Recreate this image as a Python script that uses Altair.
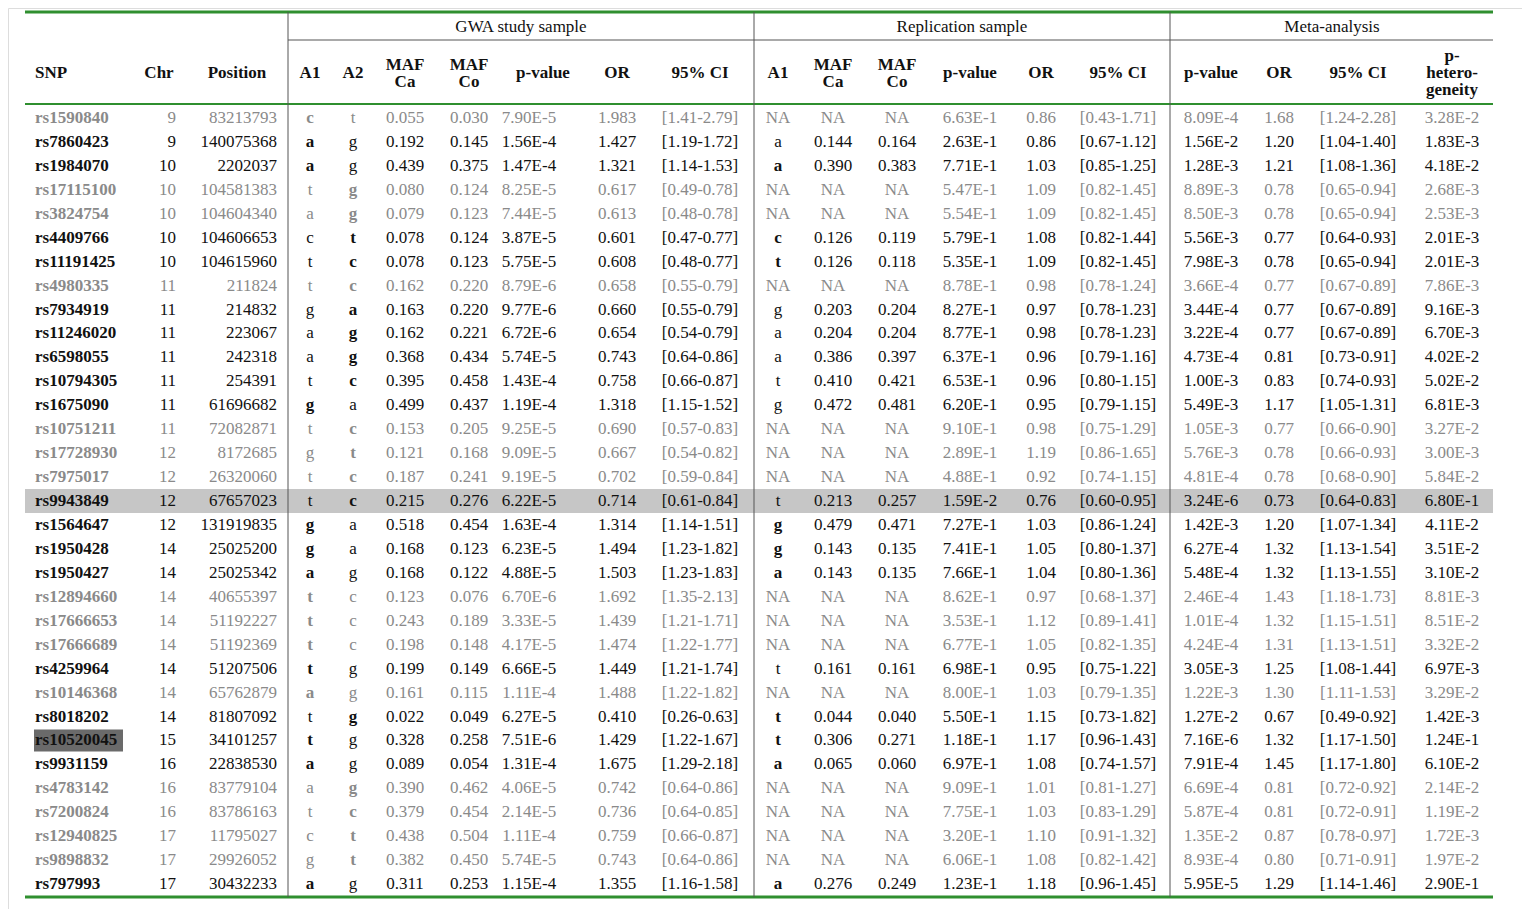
import altair as alt
import pandas as pd

# bold alleles are marked with a trailing "*"
snps = ["rs1590840", "rs7860423", "rs1984070", "rs17115100", "rs3824754", "rs4409766",
        "rs11191425", "rs4980335", "rs7934919", "rs11246020", "rs6598055", "rs10794305",
        "rs1675090", "rs10751211", "rs17728930", "rs7975017", "rs9943849", "rs1564647",
        "rs1950428", "rs1950427", "rs12894660", "rs17666653", "rs17666689", "rs4259964",
        "rs10146368", "rs8018202", "rs10520045", "rs9931159", "rs4783142", "rs7200824",
        "rs12940825", "rs9898832", "rs797993"]
chrs = ["9", "9", "10", "10", "10", "10", "10", "11", "11", "11", "11", "11", "11", "11",
        "12", "12", "12", "12", "14", "14", "14", "14", "14", "14", "14", "14", "15", "16",
        "16", "16", "17", "17", "17"]
positions = ["83213793", "140075368", "2202037", "104581383", "104604340", "104606653",
             "104615960", "211824", "214832", "223067", "242318", "254391", "61696682",
             "72082871", "8172685", "26320060", "67657023", "131919835", "25025200",
             "25025342", "40655397", "51192227", "51192369", "51207506", "65762879",
             "81807092", "34101257", "22838530", "83779104", "83786163", "11795027",
             "29926052", "30432233"]
gwa_a1 = ["c*", "a*", "a*", "t", "a", "c", "t", "t", "g", "a", "a", "t", "g*", "t", "g", "t",
          "t", "g*", "g*", "a*", "t*", "t*", "t*", "t*", "a*", "t", "t*", "a*", "a", "t", "c",
          "g", "a*"]
gwa_a2 = ["t", "g", "g", "g*", "g*", "t*", "c*", "c*", "a*", "g*", "g*", "c*", "a", "c*", "t*",
          "c*", "c*", "a", "a", "g", "c", "c", "c", "g", "g", "g*", "g", "g", "g*", "c*", "t*",
          "t*", "g"]
gwa_maf_ca = ["0.055", "0.192", "0.439", "0.080", "0.079", "0.078", "0.078", "0.162", "0.163",
              "0.162", "0.368", "0.395", "0.499", "0.153", "0.121", "0.187", "0.215", "0.518",
              "0.168", "0.168", "0.123", "0.243", "0.198", "0.199", "0.161", "0.022", "0.328",
              "0.089", "0.390", "0.379", "0.438", "0.382", "0.311"]
gwa_maf_co = ["0.030", "0.145", "0.375", "0.124", "0.123", "0.124", "0.123", "0.220", "0.220",
              "0.221", "0.434", "0.458", "0.437", "0.205", "0.168", "0.241", "0.276", "0.454",
              "0.123", "0.122", "0.076", "0.189", "0.148", "0.149", "0.115", "0.049", "0.258",
              "0.054", "0.462", "0.454", "0.504", "0.450", "0.253"]
gwa_p = ["7.90E-5", "1.56E-4", "1.47E-4", "8.25E-5", "7.44E-5", "3.87E-5", "5.75E-5", "8.79E-6",
         "9.77E-6", "6.72E-6", "5.74E-5", "1.43E-4", "1.19E-4", "9.25E-5", "9.09E-5", "9.19E-5",
         "6.22E-5", "1.63E-4", "6.23E-5", "4.88E-5", "6.70E-6", "3.33E-5", "4.17E-5", "6.66E-5",
         "1.11E-4", "6.27E-5", "7.51E-6", "1.31E-4", "4.06E-5", "2.14E-5", "1.11E-4", "5.74E-5",
         "1.15E-4"]
gwa_or = ["1.983", "1.427", "1.321", "0.617", "0.613", "0.601", "0.608", "0.658", "0.660",
          "0.654", "0.743", "0.758", "1.318", "0.690", "0.667", "0.702", "0.714", "1.314",
          "1.494", "1.503", "1.692", "1.439", "1.474", "1.449", "1.488", "0.410", "1.429",
          "1.675", "0.742", "0.736", "0.759", "0.743", "1.355"]
gwa_ci = ["[1.41-2.79]", "[1.19-1.72]", "[1.14-1.53]", "[0.49-0.78]", "[0.48-0.78]",
          "[0.47-0.77]", "[0.48-0.77]", "[0.55-0.79]", "[0.55-0.79]", "[0.54-0.79]",
          "[0.64-0.86]", "[0.66-0.87]", "[1.15-1.52]", "[0.57-0.83]", "[0.54-0.82]",
          "[0.59-0.84]", "[0.61-0.84]", "[1.14-1.51]", "[1.23-1.82]", "[1.23-1.83]",
          "[1.35-2.13]", "[1.21-1.71]", "[1.22-1.77]", "[1.21-1.74]", "[1.22-1.82]",
          "[0.26-0.63]", "[1.22-1.67]", "[1.29-2.18]", "[0.64-0.86]", "[0.64-0.85]",
          "[0.66-0.87]", "[0.64-0.86]", "[1.16-1.58]"]
rep_a1 = ["NA", "a", "a*", "NA", "NA", "c*", "t*", "NA", "g", "a", "a", "t", "g", "NA", "NA",
          "NA", "t", "g*", "g*", "a*", "NA", "NA", "NA", "t", "NA", "t*", "t*", "a*", "NA", "NA",
          "NA", "NA", "a*"]
rep_maf_ca = ["NA", "0.144", "0.390", "NA", "NA", "0.126", "0.126", "NA", "0.203", "0.204",
              "0.386", "0.410", "0.472", "NA", "NA", "NA", "0.213", "0.479", "0.143", "0.143",
              "NA", "NA", "NA", "0.161", "NA", "0.044", "0.306", "0.065", "NA", "NA", "NA", "NA",
              "0.276"]
rep_maf_co = ["NA", "0.164", "0.383", "NA", "NA", "0.119", "0.118", "NA", "0.204", "0.204",
              "0.397", "0.421", "0.481", "NA", "NA", "NA", "0.257", "0.471", "0.135", "0.135",
              "NA", "NA", "NA", "0.161", "NA", "0.040", "0.271", "0.060", "NA", "NA", "NA", "NA",
              "0.249"]
rep_p = ["6.63E-1", "2.63E-1", "7.71E-1", "5.47E-1", "5.54E-1", "5.79E-1", "5.35E-1", "8.78E-1",
         "8.27E-1", "8.77E-1", "6.37E-1", "6.53E-1", "6.20E-1", "9.10E-1", "2.89E-1", "4.88E-1",
         "1.59E-2", "7.27E-1", "7.41E-1", "7.66E-1", "8.62E-1", "3.53E-1", "6.77E-1", "6.98E-1",
         "8.00E-1", "5.50E-1", "1.18E-1", "6.97E-1", "9.09E-1", "7.75E-1", "3.20E-1", "6.06E-1",
         "1.23E-1"]
rep_or = ["0.86", "0.86", "1.03", "1.09", "1.09", "1.08", "1.09", "0.98", "0.97", "0.98", "0.96",
          "0.96", "0.95", "0.98", "1.19", "0.92", "0.76", "1.03", "1.05", "1.04", "0.97", "1.12",
          "1.05", "0.95", "1.03", "1.15", "1.17", "1.08", "1.01", "1.03", "1.10", "1.08", "1.18"]
rep_ci = ["[0.43-1.71]", "[0.67-1.12]", "[0.85-1.25]", "[0.82-1.45]", "[0.82-1.45]",
          "[0.82-1.44]", "[0.82-1.45]", "[0.78-1.24]", "[0.78-1.23]", "[0.78-1.23]",
          "[0.79-1.16]", "[0.80-1.15]", "[0.79-1.15]", "[0.75-1.29]", "[0.86-1.65]",
          "[0.74-1.15]", "[0.60-0.95]", "[0.86-1.24]", "[0.80-1.37]", "[0.80-1.36]",
          "[0.68-1.37]", "[0.89-1.41]", "[0.82-1.35]", "[0.75-1.22]", "[0.79-1.35]",
          "[0.73-1.82]", "[0.96-1.43]", "[0.74-1.57]", "[0.81-1.27]", "[0.83-1.29]",
          "[0.91-1.32]", "[0.82-1.42]", "[0.96-1.45]"]
meta_p = ["8.09E-4", "1.56E-2", "1.28E-3", "8.89E-3", "8.50E-3", "5.56E-3", "7.98E-3", "3.66E-4",
          "3.44E-4", "3.22E-4", "4.73E-4", "1.00E-3", "5.49E-3", "1.05E-3", "5.76E-3", "4.81E-4",
          "3.24E-6", "1.42E-3", "6.27E-4", "5.48E-4", "2.46E-4", "1.01E-4", "4.24E-4", "3.05E-3",
          "1.22E-3", "1.27E-2", "7.16E-6", "7.91E-4", "6.69E-4", "5.87E-4", "1.35E-2", "8.93E-4",
          "5.95E-5"]
meta_or = ["1.68", "1.20", "1.21", "0.78", "0.78", "0.77", "0.78", "0.77", "0.77", "0.77", "0.81",
           "0.83", "1.17", "0.77", "0.78", "0.78", "0.73", "1.20", "1.32", "1.32", "1.43", "1.32",
           "1.31", "1.25", "1.30", "0.67", "1.32", "1.45", "0.81", "0.81", "0.87", "0.80", "1.29"]
meta_ci = ["[1.24-2.28]", "[1.04-1.40]", "[1.08-1.36]", "[0.65-0.94]", "[0.65-0.94]",
           "[0.64-0.93]", "[0.65-0.94]", "[0.67-0.89]", "[0.67-0.89]", "[0.67-0.89]",
           "[0.73-0.91]", "[0.74-0.93]", "[1.05-1.31]", "[0.66-0.90]", "[0.66-0.93]",
           "[0.68-0.90]", "[0.64-0.83]", "[1.07-1.34]", "[1.13-1.54]", "[1.13-1.55]",
           "[1.18-1.73]", "[1.15-1.51]", "[1.13-1.51]", "[1.08-1.44]", "[1.11-1.53]",
           "[0.49-0.92]", "[1.17-1.50]", "[1.17-1.80]", "[0.72-0.92]", "[0.72-0.91]",
           "[0.78-0.97]", "[0.71-0.91]", "[1.14-1.46]"]
p_het = ["3.28E-2", "1.83E-3", "4.18E-2", "2.68E-3", "2.53E-3", "2.01E-3", "2.01E-3", "7.86E-3",
         "9.16E-3", "6.70E-3", "4.02E-2", "5.02E-2", "6.81E-3", "3.27E-2", "3.00E-3", "5.84E-2",
         "6.80E-1", "4.11E-2", "3.51E-2", "3.10E-2", "8.81E-3", "8.51E-2", "3.32E-2", "6.97E-3",
         "3.29E-2", "1.42E-3", "1.24E-1", "6.10E-2", "2.14E-2", "1.19E-2", "1.72E-3", "1.97E-2",
         "2.90E-1"]

highlight_row = "rs9943849"
boxed_snp = "rs10520045"

BLACK = "#111111"
GREY = "#8a8a8a"
GREEN = "#2f8f2f"
FONT = "Liberation Serif"

# column: (values, x, align)
columns = [
    (snps, 35, "left"), (chrs, 176, "right"), (positions, 277, "right"),
    (gwa_a1, 310, "center"), (gwa_a2, 353, "center"), (gwa_maf_ca, 405, "center"),
    (gwa_maf_co, 469, "center"), (gwa_p, 529, "center"), (gwa_or, 617, "center"),
    (gwa_ci, 700, "center"), (rep_a1, 778, "center"), (rep_maf_ca, 833, "center"),
    (rep_maf_co, 897, "center"), (rep_p, 970, "center"), (rep_or, 1041, "center"),
    (rep_ci, 1118, "center"), (meta_p, 1211, "center"), (meta_or, 1279, "center"),
    (meta_ci, 1358, "center"), (p_het, 1452, "center"),
]
row_y0, row_dy = 118, 23.94

cells = []
for i, snp in enumerate(snps):
    tone = "grey" if rep_a1[i] == "NA" else "black"
    y = row_y0 + i * row_dy
    for ci, (vals, x, align) in enumerate(columns):
        v = vals[i]
        weight = "bold" if (ci == 0 or v.endswith("*")) else "normal"
        cells.append(dict(label=v.rstrip("*"), px=x, py=y, anchor=align,
                          weight=weight, tone=tone))

headers = [
    ("SNP", 35, 73, "left"), ("Chr", 159, 73, "center"), ("Position", 237, 73, "center"),
    ("A1", 310, 73, "center"), ("A2", 353, 73, "center"),
    ("MAF", 405, 65, "center"), ("Ca", 405, 82, "center"),
    ("MAF", 469, 65, "center"), ("Co", 469, 82, "center"),
    ("p-value", 543, 73, "center"), ("OR", 617, 73, "center"), ("95% CI", 700, 73, "center"),
    ("A1", 778, 73, "center"),
    ("MAF", 833, 65, "center"), ("Ca", 833, 82, "center"),
    ("MAF", 897, 65, "center"), ("Co", 897, 82, "center"),
    ("p-value", 970, 73, "center"), ("OR", 1041, 73, "center"), ("95% CI", 1118, 73, "center"),
    ("p-value", 1211, 73, "center"), ("OR", 1279, 73, "center"), ("95% CI", 1358, 73, "center"),
    ("p-", 1452, 56, "center"), ("hetero-", 1452, 73, "center"), ("geneity", 1452, 90, "center"),
]
for t, x, y, a in headers:
    cells.append(dict(label=t, px=x, py=y, anchor=a, weight="bold", tone="black"))
for t, x in [("GWA study sample", 521), ("Replication sample", 962), ("Meta-analysis", 1332)]:
    cells.append(dict(label=t, px=x, py=27, anchor="center", weight="normal", tone="black"))

df = pd.DataFrame(cells)

xs = alt.Scale(domain=[8, 1522], nice=False, zero=False)
ys = alt.Scale(domain=[8, 909], nice=False, zero=False, reverse=True)

hi = snps.index(highlight_row)
bx = snps.index(boxed_snp)
boxes = pd.DataFrame([
    dict(px=25, px2=1493, py=row_y0 + hi * row_dy - 12, py2=row_y0 + hi * row_dy + 12, c="#c6c6c6"),
    dict(px=34, px2=123, py=row_y0 + bx * row_dy - 11, py2=row_y0 + bx * row_dy + 11, c="#6a6a6a"),
])
rects = alt.Chart(boxes).mark_rect().encode(
    x=alt.X("px:Q", scale=xs, axis=None), x2="px2",
    y=alt.Y("py:Q", scale=ys, axis=None), y2="py2",
    color=alt.Color("c:N", scale=None),
)

lines = pd.DataFrame([
    dict(px=25, px2=1493, py=12, py2=12, w=3, c=GREEN),
    dict(px=25, px2=1493, py=104, py2=104, w=2, c=GREEN),
    dict(px=25, px2=1493, py=897, py2=897, w=3, c=GREEN),
    dict(px=288, px2=1493, py=40, py2=40, w=1, c="#555555"),
    dict(px=288, px2=288, py=12, py2=897, w=1, c="#555555"),
    dict(px=754, px2=754, py=12, py2=897, w=1, c="#555555"),
    dict(px=1170, px2=1170, py=12, py2=897, w=1, c="#555555"),
])
rules = alt.Chart(lines).mark_rule().encode(
    x=alt.X("px:Q", scale=xs, axis=None), x2="px2",
    y=alt.Y("py:Q", scale=ys, axis=None), y2="py2",
    color=alt.Color("c:N", scale=None),
    strokeWidth=alt.StrokeWidth("w:Q", scale=None),
)

layers = [rects, rules]
for anchor in ["left", "center", "right"]:
    for weight in ["normal", "bold"]:
        for tone, col in [("black", BLACK), ("grey", GREY)]:
            sub = df[(df.anchor == anchor) & (df.weight == weight) & (df.tone == tone)]
            if sub.empty:
                continue
            layers.append(
                alt.Chart(sub[["label", "px", "py"]]).mark_text(
                    align=anchor, baseline="middle", font=FONT, fontSize=17,
                    fontWeight=weight, color=col,
                ).encode(
                    x=alt.X("px:Q", scale=xs, axis=None),
                    y=alt.Y("py:Q", scale=ys, axis=None),
                    text=alt.Text("label:N"),
                )
            )

chart = alt.layer(*layers).properties(
    width=1514, height=901, autosize=alt.AutoSizeParams(type="none"), padding=0
).configure_view(stroke=None).configure(background="white")

chart.save("out.html", embed_options={"renderer": "svg", "actions": False})
